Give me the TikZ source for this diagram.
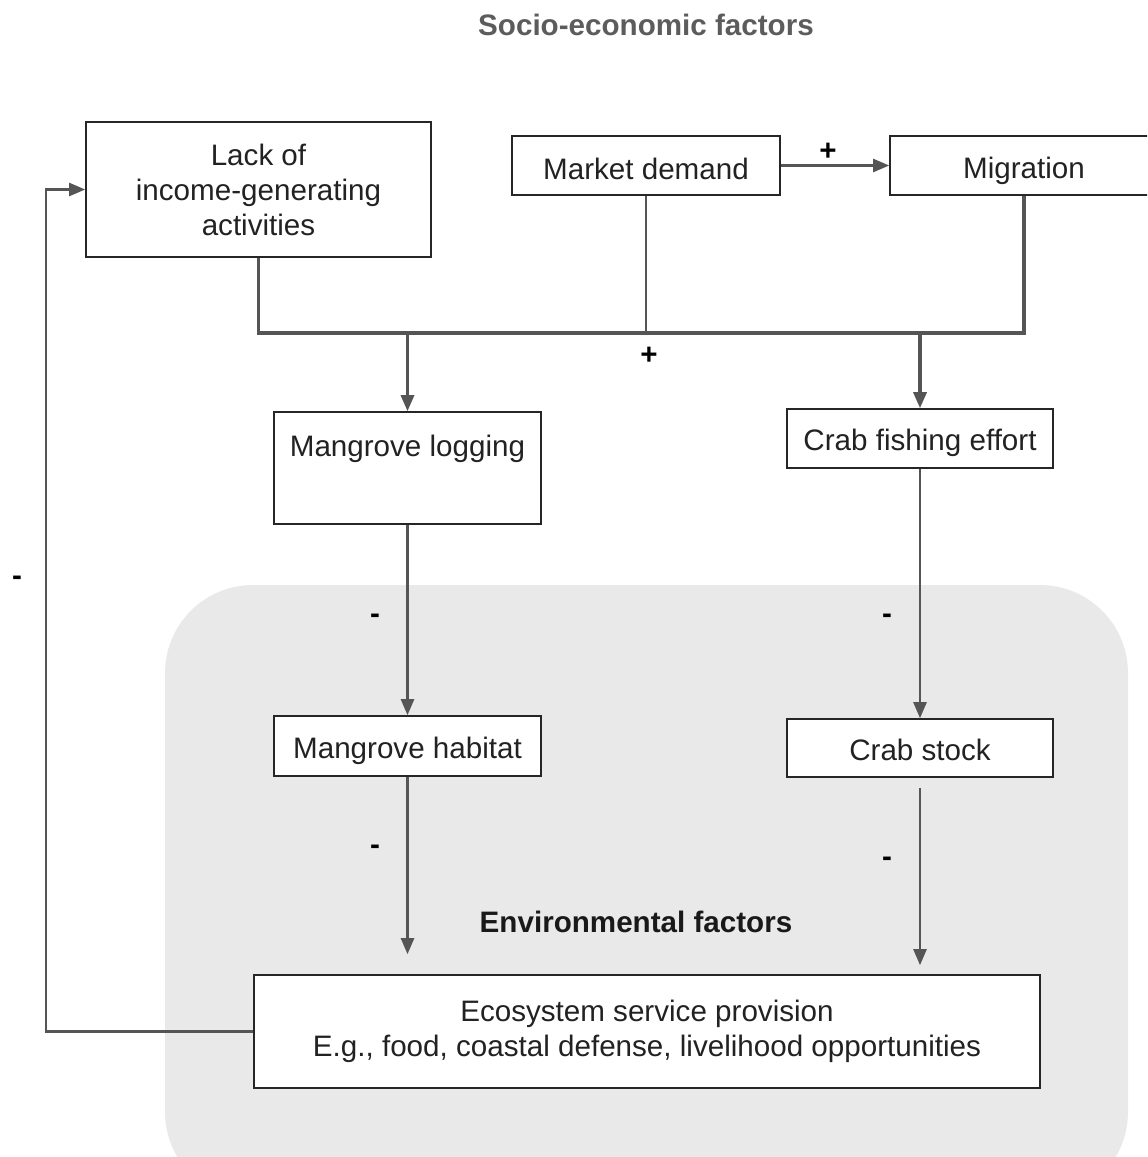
\documentclass[tikz,border=0pt]{standalone}
\usepackage{fontspec}
\setmainfont{Liberation Sans}
\usetikzlibrary{arrows.meta}
\definecolor{linegray}{HTML}{555555}
\definecolor{txt}{HTML}{222222}
\definecolor{envfill}{HTML}{E9E9E9}
\definecolor{titlegray}{HTML}{5C5C5C}
\newcommand{\lowtext}[1]{\raisebox{-2.2pt}[\height][\depth]{#1}}
\begin{document}
\begin{tikzpicture}[x=0.5pt,y=-0.5pt,
  font=\fontsize{14.8}{17.5}\selectfont,
  box/.style={draw=black!85, line width=0.8pt, fill=white, inner sep=0pt, text=txt},
  multi/.style={align=center},
  arr/.style={draw=linegray, line width=1.2pt, -{Triangle[length=8pt,width=6.5pt]}},
  plain/.style={draw=linegray, line width=1.3pt},
  bus/.style={draw=linegray, line width=1.6pt},
  busarr/.style={draw=linegray, line width=1.6pt, -{Triangle[length=8pt,width=6.5pt]}},
  sign/.style={font=\fontsize{14.8}{17.5}\selectfont\bfseries, text=black},
  heading/.style={font=\fontsize{14.8}{17.5}\selectfont\bfseries}
]
\useasboundingbox (0,0) rectangle (1147,1157);
\clip (0,0) rectangle (1147,1157);

% environmental background
\fill[envfill, rounded corners=44pt] (165,585) rectangle (1128,1200);

% title
\node[heading, text=titlegray] (title) at (646,25) {Socio-economic factors};
\node[heading, text=black!90] (envtitle) at (636,922) {Environmental factors};

% boxes
\node[box, multi, minimum width=172.5pt, minimum height=67.5pt] (lack) at (258.5,189.5) {Lack of\\income-generating\\activities};
\node[box, minimum width=134pt, minimum height=29.5pt] (market) at (646,165.5) {\raisebox{-1.8pt}[\height][\depth]{Market demand}};
\node[box, minimum width=134pt, minimum height=29.5pt] (migr) at (1024,165.5) {\raisebox{-2.6pt}[\height][\depth]{Migration}};
\node[box, minimum width=133.5pt, minimum height=56pt, text depth=24pt] (mlog) at (407.5,468) {\raisebox{-0.7pt}[\height][\depth]{Mangrove logging}};
\node[box, minimum width=133pt, minimum height=29.5pt] (crabf) at (920,438.5) {\lowtext{Crab fishing effort}};
\node[box, minimum width=133.5pt, minimum height=30pt] (mhab) at (407.5,746) {\lowtext{Mangrove habitat}};
\node[box, minimum width=133pt, minimum height=29pt] (crabs) at (920,748) {\raisebox{-1pt}[\height][\depth]{Crab stock}};
\node[box, multi, minimum width=393pt, minimum height=56.5pt] (eco) at (647,1031.5) {Ecosystem service provision\\E.g., food, coastal defense, livelihood opportunities};

% connectors
\coordinate (busL) at (258,333);
\coordinate (busR) at (1024,333);
\coordinate (fb) at (46,600);

\draw[arr] (market.east) -- (migr.west);
\draw[bus] (lack.south) |- (busR) -- (migr.south);
\draw[plain] (market.south) -- (market.south |- busL);
\draw[busarr] (mlog.north |- busL) -- (mlog.north);
\draw[busarr] (crabf.north |- busL) -- (crabf.north);
\draw[arr] (mlog.south) -- (mhab.north);
\draw[arr] (crabf.south) -- (crabs.north);
\draw[arr, shorten >=10pt] (mhab.south) -- (mhab.south |- eco.north);
\draw[arr, shorten <=5pt, shorten >=4.5pt] (crabs.south) -- (crabs.south |- eco.north);
\draw[arr] (eco.west) -| (fb |- lack.west) -- (lack.west);

% signs
\node[sign] (p1) at (828,152) {+};
\node[sign] (p2) at (649,356) {+};
\node[sign] (m0) at (17,581) {-};
\node[sign] (m1) at (375,619) {-};
\node[sign] (m2) at (887,619) {-};
\node[sign] (m3) at (375,850) {-};
\node[sign] (m4) at (887,862) {-};
\end{tikzpicture}
\end{document}
